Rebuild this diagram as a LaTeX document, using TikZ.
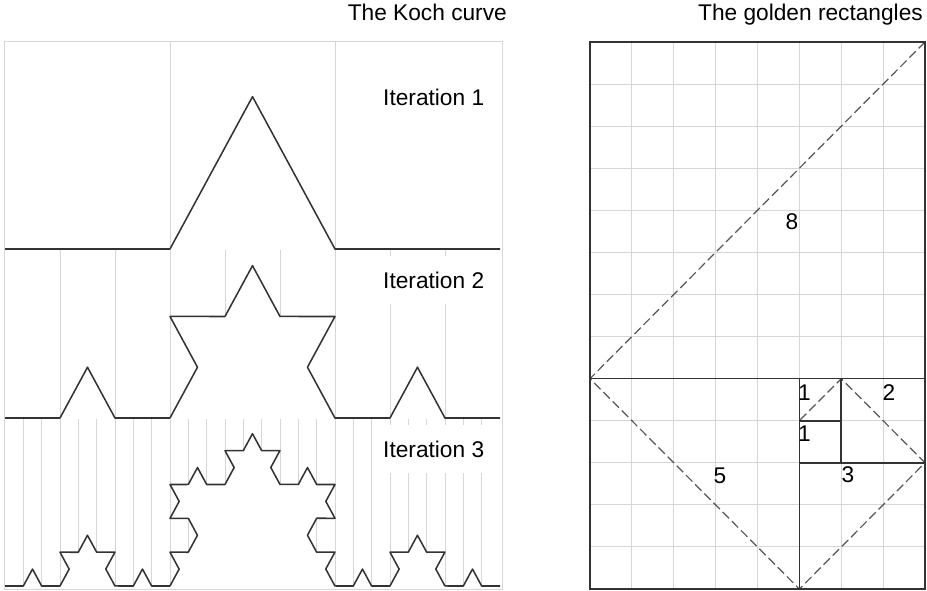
\documentclass[tikz,border=0pt]{standalone}
\usepackage{fontspec}
\setmainfont{Liberation Sans}
\usetikzlibrary{decorations.fractals}
\definecolor{gridgray}{HTML}{D6D6D6}
\definecolor{inkgray}{HTML}{333333}
\definecolor{dashgray}{HTML}{555555}

\begin{document}
\begin{tikzpicture}[
    x=1pt, y=-1pt,
    font=\fontsize{22.7}{27}\selectfont,
    title/.style={anchor=base east, inner sep=0pt, text=black},
    gridline/.style={gridgray, line width=1pt},
    itlabel/.style={fill=white, inner xsep=6pt, inner ysep=16pt, anchor=base west, text=black},
    kochline/.style={draw=inkgray, fill=white, line width=1.5pt, line join=round, decoration=Koch snowflake},
    frame/.style={inkgray, line width=1.6pt},
    spiral/.style={dashgray, line width=1.2pt, dash pattern=on 9pt off 4pt},
    num/.style={inner sep=0pt, text=black}
]
\useasboundingbox (0,0) rectangle (927,591);

\node[title] (kochtitle) at (507,20.5) {The Koch curve};
\node[title] (goldtitle) at (923,20.5) {The golden rectangles};

% Koch curve panels
\draw[gridline] (4,42) rectangle (502,589);
\foreach \k in {1,2}
  \draw[gridline] ({5+\k*165},42) -- ({5+\k*165},249);
\foreach \k in {1,...,8}
  \draw[gridline] ({5+\k*55},250) -- ({5+\k*55},418);
\foreach \k in {1,...,26}
  \draw[gridline] ({5+\k*18.3333},419) -- ({5+\k*18.3333},586);

\node[itlabel] (iter1) at (377,106) {Iteration 1};
\node[itlabel] (iter2) at (377,288) {Iteration 2};
\node[itlabel] (iter3) at (377,457) {Iteration 3};

\begin{scope}[transform canvas={shift={(0,249)}, yscale=1.066}]
  \draw[kochline] decorate{(5,0) -- (500,0)};
\end{scope}
\begin{scope}[transform canvas={shift={(0,418)}, yscale=1.066}]
  \draw[kochline] decorate{decorate{(5,0) -- (500,0)}};
\end{scope}
\begin{scope}[transform canvas={shift={(0,586)}, yscale=1.066}]
  \draw[kochline] decorate{decorate{decorate{(5,0) -- (500,0)}}};
\end{scope}

% golden rectangles
\begin{scope}[shift={(590,42)}, x=41.875pt, y=-42.08pt]
  \foreach \c in {1,...,7}
    \draw[gridline] (\c,0) -- (\c,13);
  \foreach \r in {1,...,12}
    \draw[gridline] (0,\r) -- (8,\r);
  \draw[spiral] (8,0) -- (0,8) -- (5,13) -- (8,10) -- (6,8) -- (5,9);
  \draw[frame] (0,0) rectangle (8,13);
  \draw[frame] (0,8) -- (8,8) (5,8) -- (5,13) (5,10) -- (8,10)
    (6,8) -- (6,10) (5,9) -- (6,9);
\end{scope}

\node[num] (sq8) at (792,222) {8};
\node[num] (sq5) at (720,475.5) {5};
\node[num] (sq3) at (848,474.5) {3};
\node[num] (sq2) at (889,392.5) {2};
\node[num] (sq1a) at (804.5,392.5) {1};
\node[num] (sq1b) at (804.5,434) {1};
\end{tikzpicture}
\end{document}
